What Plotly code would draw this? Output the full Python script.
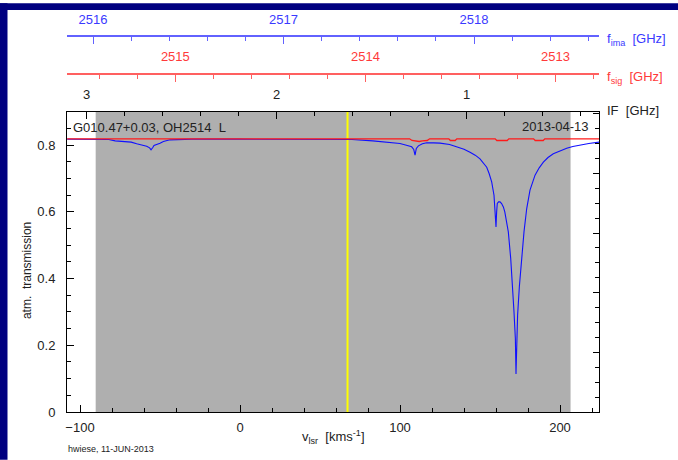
import plotly.graph_objects as go

# ---------------- data ----------------
v_ima = [-108, -82, -78, -73, -68, -64.6, -60, -58.3, -56.5, -55.6, -54.5, -53.75, -50, -47.9,
         -43.75, -30, 0, 30, 60, 70, 83, 92, 100, 104, 107.3, 108.6, 109.4, 110.2, 111.5, 114,
         116.7, 121, 125, 131, 135.4, 140, 143.75, 147, 150, 152, 154.2, 155.7, 157.3, 158.75,
         159.6, 160, 160.4, 160.8, 161.6, 162.5, 163.5, 164.6, 165.5, 166.25, 167.7, 169.2,
         170.4, 171.25, 172.1, 172.5, 173.1, 173.5, 174.6, 176, 177.5, 179.2, 181.25, 184.4,
         187, 189.6, 192.5, 195.8, 200, 204.2, 208, 212.5, 218, 224.4]
t_ima = [0.818, 0.817, 0.813, 0.812, 0.809, 0.804, 0.800, 0.797, 0.792, 0.786, 0.793, 0.799,
         0.806, 0.811, 0.816, 0.818, 0.818, 0.818, 0.818, 0.817, 0.813, 0.809, 0.805, 0.800,
         0.795, 0.787, 0.770, 0.790, 0.798, 0.804, 0.807, 0.807, 0.806, 0.802, 0.796, 0.788,
         0.779, 0.770, 0.759, 0.748, 0.734, 0.715, 0.690, 0.650, 0.600, 0.555, 0.600, 0.625,
         0.630, 0.630, 0.625, 0.615, 0.600, 0.580, 0.540, 0.460, 0.381, 0.300, 0.220, 0.114,
         0.220, 0.290, 0.376, 0.460, 0.540, 0.610, 0.665, 0.710, 0.732, 0.749, 0.763, 0.774,
         0.783, 0.791, 0.796, 0.801, 0.805, 0.809]

v_sig = [-108, 106, 107.5, 110, 112, 114, 117, 118.5, 130.5, 131.5, 134.5, 135.5, 159.5, 160.5,
         167, 168, 183.5, 184.5, 189.5, 190.5, 224.4]
t_sig = [0.819, 0.819, 0.814, 0.813, 0.811, 0.813, 0.814, 0.819, 0.819, 0.814, 0.814, 0.819,
         0.819, 0.814, 0.814, 0.819, 0.819, 0.814, 0.814, 0.819, 0.819]

band_limits = [-90.2, 206.6]     # grey band (km/s)
v_marker = 67.2                   # yellow line (km/s)
v_range = [-108.125, 224.375]
t_range = [0, 0.9]
if_range = [3.1026, 0.304]
fsig_range = [2515.570, 2512.771]
fima_range = [2515.8635, 2518.656]

source_label = "G010.47+0.03, OH2514  L"
date_label = "2013-04-13"
credit_label = "hwiese, 11-JUN-2013"

# ---------------- layout helpers ----------------
W, H = 678, 460
ML, MR, MT, MB = 67, 79, 20, 48
PW = W - ML - MR
PH = H - MT - MB


def px(x):
    return (x - ML) / PW


def py(y):
    return (H - MB - y) / PH


FONT = "Liberation Sans, Arial, sans-serif"
TXT = "#222222"
BLUE_T = "#3a3aff"
BLUE_L = "#6262ff"
RED_T = "#ff3a3a"
RED_L = "#ff6060"
ydom_top = py(109.5)

fig = go.Figure()
fig.add_trace(go.Scatter(x=v_ima, y=t_ima, mode="lines", line=dict(color="#1010ff", width=1.1),
                         showlegend=False, hoverinfo="skip"))
fig.add_trace(go.Scatter(x=v_sig, y=t_sig, mode="lines", line=dict(color="#ff1a1a", width=1.3),
                         showlegend=False, hoverinfo="skip"))
# dummy traces to register extra axes
for xa, ya in [("x2", "y"), ("x3", "y"), ("x4", "y"), ("x", "y2")]:
    fig.add_trace(go.Scatter(x=[None], y=[None], xaxis=xa, yaxis=ya, mode="lines",
                             showlegend=False, hoverinfo="skip"))

tickfont = dict(family=FONT, size=13, color=TXT)
fig.update_layout(
    width=W, height=H,
    margin=dict(l=ML, r=MR, t=MT, b=MB, pad=0),
    paper_bgcolor="white", plot_bgcolor="white",
    font=dict(family=FONT, size=13, color=TXT),
    showlegend=False,
    xaxis=dict(domain=[0, 1], range=v_range, showline=True, linecolor="black", linewidth=1,
               ticks="inside", ticklen=7, tickcolor="black", dtick=100, tick0=0,
               minor=dict(dtick=20, tick0=0, ticks="inside", ticklen=4, tickcolor="black"),
               showgrid=False, zeroline=False, tickfont=tickfont, ticklabelstandoff=3),
    yaxis=dict(domain=[0, ydom_top], range=t_range, showline=True, linecolor="black", linewidth=1,
               ticks="inside", ticklen=7, tickcolor="black", dtick=0.2, tick0=0,
               minor=dict(dtick=0.05, tick0=0, ticks="inside", ticklen=4, tickcolor="black"),
               showgrid=False, zeroline=False, tickfont=tickfont, ticklabelstandoff=8),
    xaxis2=dict(overlaying="x", anchor="y", side="top", range=if_range, showline=True,
                linecolor="black", linewidth=1, ticks="inside", ticklen=7, tickcolor="black",
                dtick=1, tick0=0,
                minor=dict(dtick=0.2, tick0=0, ticks="inside", ticklen=4, tickcolor="black"),
                showgrid=False, zeroline=False, tickfont=tickfont, ticklabelstandoff=7),
    xaxis3=dict(overlaying="x", anchor="free", position=py(71), side="top", range=fsig_range,
                showline=True, linecolor=RED_L, linewidth=2, ticks="inside", ticklen=7,
                tickcolor=RED_L, tickwidth=1, dtick=1, tick0=0,
                minor=dict(dtick=0.2, tick0=0, ticks="inside", ticklen=4, tickcolor=RED_L),
                showgrid=False, zeroline=False,
                tickfont=dict(family=FONT, size=13, color=RED_T), ticklabelstandoff=6),
    xaxis4=dict(overlaying="x", anchor="free", position=py(33.5), side="top", range=fima_range,
                showline=True, linecolor=BLUE_L, linewidth=2, ticks="inside", ticklen=7,
                tickcolor=BLUE_L, tickwidth=1, dtick=1, tick0=0,
                minor=dict(dtick=0.2, tick0=0, ticks="inside", ticklen=4, tickcolor=BLUE_L),
                showgrid=False, zeroline=False,
                tickfont=dict(family=FONT, size=13, color=BLUE_T), ticklabelstandoff=6),
    yaxis2=dict(overlaying="y", anchor="x", side="right", range=[0, (411.5 - 109.5) / 60],
                showline=True, linecolor="black", linewidth=1, ticks="inside", ticklen=6,
                tickcolor="black", dtick=1, tick0=0, showticklabels=False,
                minor=dict(dtick=0.25, tick0=0, ticks="inside", ticklen=4, tickcolor="black"),
                showgrid=False, zeroline=False),
)

shapes = [
    dict(type="rect", xref="x", yref="y", x0=band_limits[0], x1=band_limits[1],
         y0=t_range[0], y1=t_range[1], fillcolor="#afafaf", line=dict(width=0), layer="below"),
    dict(type="line", xref="x", yref="y", x0=v_marker, x1=v_marker, y0=t_range[0], y1=t_range[1],
         line=dict(color="#ffff00", width=2), layer="below"),
    # navy frame bands (top and left)
    dict(type="rect", xref="paper", yref="paper", x0=px(0), x1=px(W), y0=py(7), y1=py(0),
         fillcolor="#000080", line=dict(width=0), layer="below"),
    dict(type="rect", xref="paper", yref="paper", x0=px(0), x1=px(7.5), y0=py(H), y1=py(0),
         fillcolor="#000080", line=dict(width=0), layer="below"),
]
fig.update_layout(shapes=shapes)

ann = [
    dict(text=source_label, x=px(70.5), y=py(125.5), xanchor="left", yanchor="middle",
         font=dict(size=13, color=TXT)),
    dict(text=date_label, x=px(591), y=py(124), xanchor="right", yanchor="middle",
         font=dict(size=13, color=TXT)),
    dict(text="IF  [GHz]", x=px(605), y=py(108.5), xanchor="left", yanchor="middle",
         font=dict(size=13, color=TXT)),
    dict(text="f<sub>ima</sub>  [GHz]", x=px(605), y=py(37), xanchor="left", yanchor="middle",
         font=dict(size=13, color=BLUE_T)),
    dict(text="f<sub>sig</sub>  [GHz]", x=px(605), y=py(75), xanchor="left", yanchor="middle",
         font=dict(size=13, color=RED_T)),
    dict(text="atm.  transmission", x=px(27), y=py(270), xanchor="center", yanchor="middle",
         textangle=-90, font=dict(size=12, color=TXT)),
    dict(text="v<sub>lsr</sub>  [kms<sup>-1</sup>]", x=0.5, y=py(437), xanchor="center",
         yanchor="middle", font=dict(size=13, color=TXT)),
    dict(text=credit_label, x=px(66), y=py(449), xanchor="left", yanchor="middle",
         font=dict(size=9, color=TXT)),
]
for a in ann:
    a.update(xref="paper", yref="paper", showarrow=False)
fig.update_layout(annotations=ann)

fig.write_html("out.html")
